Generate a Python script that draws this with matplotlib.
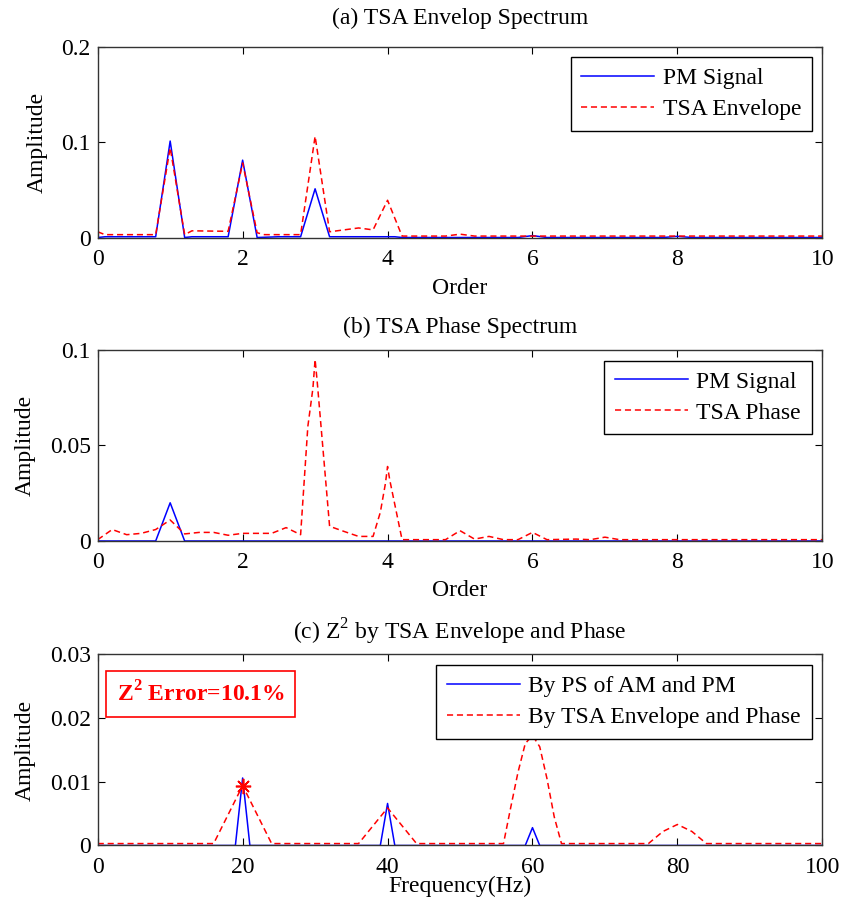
import matplotlib
matplotlib.use("Agg")
import matplotlib.pyplot as plt

plt.rcParams['font.family'] = ['Liberation Serif', 'DejaVu Serif']
plt.rcParams['mathtext.fontset'] = 'custom'
plt.rcParams['mathtext.rm'] = 'Liberation Serif'
plt.rcParams['mathtext.bf'] = 'Liberation Serif:bold'
plt.rcParams['font.size'] = 17

# (a) TSA envelope spectrum
pm_a_order = [0, 0.1, 0.8, 1.0, 1.2, 1.3, 1.8, 2.0, 2.2, 2.5, 2.8, 3.0, 3.2, 4.1, 4.2,
              5.8, 6.0, 6.2, 7.8, 8.0, 8.2, 10]
pm_a_amp = [0, 0.0008, 0.0008, 0.101, 0, 0.0008, 0.0008, 0.081, 0, 0.0008, 0.0008, 0.051,
            0.0008, 0.0008, 0, 0, 0.002, 0, 0, 0.0012, 0, 0]
env_a_order = [0, 0.1, 0.8, 1.0, 1.2, 1.3, 1.8, 2.0, 2.2, 2.3, 2.8, 3.0, 3.2, 3.6, 3.8,
               4.0, 4.2, 4.8, 5.0, 5.2, 6.0, 10]
env_a_amp = [0.006, 0.003, 0.003, 0.094, 0.003, 0.007, 0.0065, 0.078, 0.005, 0.003, 0.003,
             0.106, 0.006, 0.01, 0.008, 0.039, 0.0015, 0.0015, 0.0035, 0.0015, 0.0015, 0.0015]

# (b) TSA phase spectrum
pm_b_order = [0, 0.8, 1.0, 1.2, 10]
pm_b_amp = [0, 0, 0.02, 0, 0]
phase_b_order = [0, 0.2, 0.4, 0.6, 0.8, 1.0, 1.2, 1.4, 1.6, 1.8, 2.0, 2.4, 2.6, 2.8, 2.9,
                 2.97, 3.0, 3.03, 3.2, 3.4, 3.6, 3.8, 3.9, 3.97, 4.0, 4.03, 4.2, 4.8, 5.0,
                 5.2, 5.4, 5.6, 5.8, 6.0, 6.2, 6.6, 6.8, 7.0, 7.2, 10]
phase_b_amp = [0.0007, 0.006, 0.0033, 0.004, 0.006, 0.011, 0.0037, 0.0045, 0.0045, 0.003,
               0.004, 0.004, 0.007, 0.0033, 0.06, 0.08, 0.095, 0.083, 0.0077, 0.005, 0.0024,
               0.0024, 0.015, 0.03, 0.039, 0.032, 0.0007, 0.0007, 0.0054, 0.001, 0.0024,
               0.0007, 0.0007, 0.0045, 0.0007, 0.001, 0.0007, 0.002, 0.0007, 0.0007]

# (c) Z^2
ps_freq = [0, 19, 20, 21, 39, 40, 41, 59, 60, 61, 100]
ps_amp = [0, 0, 0.0106, 0, 0, 0.0066, 0, 0, 0.0028, 0, 0]
tsa_freq = [0, 16, 20, 24, 36, 40, 44, 56, 57, 58, 59, 60, 61, 62, 63, 64,
            76, 78, 80, 82, 84, 100]
tsa_amp = [0.0003, 0.0003, 0.0094, 0.0003, 0.0003, 0.0059, 0.0003, 0.0003, 0.006, 0.0115,
           0.016, 0.0173, 0.0155, 0.0105, 0.0045, 0.0003, 0.0003, 0.0022, 0.0033, 0.0022,
           0.0003, 0.0003]
marker_freq = [20]
marker_amp = [0.0094]

fig = plt.figure(figsize=(8.43, 9.1), dpi=100)
left, width, height = 0.1159, 0.8596, 0.2099
ax_a = fig.add_axes([left, 0.739, width, height])
ax_b = fig.add_axes([left, 0.4055, width, height])
ax_c = fig.add_axes([left, 0.0709, width, height])

dash = (4, 2.5)


def style(ax, xlim, ylim, xticks, yticks, ylabels, xlabel, title, xpad, tpad):
    ax.set_xlim(*xlim)
    ax.set_ylim(*ylim)
    ax.set_xticks(xticks)
    ax.set_yticks(yticks)
    ax.set_yticklabels(ylabels)
    ax.tick_params(direction='in', top=True, right=True, length=5, width=0.8,
                   labelsize=17, pad=5)
    ax.tick_params(axis='x', pad=8)
    for s in ax.spines.values():
        s.set_color('#333333')
        s.set_linewidth(1)
    ax.set_xlabel(xlabel, fontsize=17, labelpad=xpad)
    ax.set_ylabel('Amplitude', fontsize=17, labelpad=10)
    ax.set_title(title, fontsize=17, pad=tpad)


def legend(ax):
    leg = ax.legend(loc='upper right', fancybox=False, edgecolor='black', fontsize=17,
                    handlelength=3.1, handletextpad=0.35, labelspacing=0.4,
                    borderpad=0.45, borderaxespad=0.45, framealpha=1)
    leg.get_frame().set_linewidth(1)


ax_a.plot(pm_a_order, pm_a_amp, color='blue', lw=1.1, label='PM Signal')
ax_a.plot(env_a_order, env_a_amp, color='red', lw=1.1, dashes=dash, label='TSA Envelope')
style(ax_a, (0, 10), (0, 0.2), range(0, 11, 2), [0, 0.1, 0.2], ['0', '0.1', '0.2'],
      'Order', '(a) TSA Envelop Spectrum', 6, 16)
legend(ax_a)

ax_b.plot(pm_b_order, pm_b_amp, color='blue', lw=1.1, label='PM Signal')
ax_b.plot(phase_b_order, phase_b_amp, color='red', lw=1.1, dashes=dash, label='TSA Phase')
style(ax_b, (0, 10), (0, 0.1), range(0, 11, 2), [0, 0.05, 0.1], ['0', '0.05', '0.1'],
      'Order', '(b) TSA Phase Spectrum', 5, 12)
legend(ax_b)

ax_c.plot(ps_freq, ps_amp, color='blue', lw=1.1, label='By PS of AM and PM')
ax_c.plot(tsa_freq, tsa_amp, color='red', lw=1.1, dashes=dash,
          label='By TSA Envelope and Phase')
ax_c.plot(marker_freq, marker_amp, linestyle='none', marker=(8, 2, 0), ms=11,
          mec='red', mew=1.2)
style(ax_c, (0, 100), (0, 0.03), range(0, 101, 20), [0, 0.01, 0.02, 0.03],
      ['0', '0.01', '0.02', '0.03'], 'Frequency(Hz)',
      r'(c) Z$^2$ by TSA Envelope and Phase', -1, 11)
legend(ax_c)
ax_c.text(0.026, 0.86, r'Z$^{\mathbf{2}}$ Error=10.1%', transform=ax_c.transAxes,
          color='red', fontsize=17, fontweight='bold', va='top', ha='left',
          bbox=dict(boxstyle='square,pad=0.45', fc='white', ec='red', lw=1.2))

fig.savefig('out.png', dpi=100)
